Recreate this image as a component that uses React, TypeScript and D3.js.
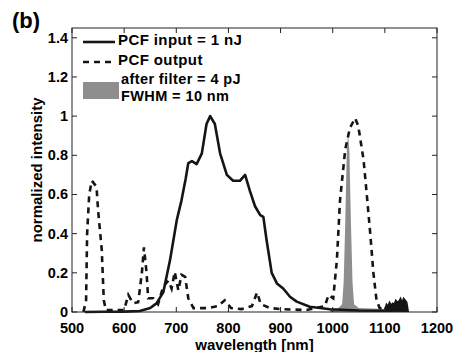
import React from 'react';
import * as d3 from 'd3';

// PCF input spectrum (solid)
const inputWl = [525, 560, 600, 630, 650, 662, 675, 688, 701, 710, 718, 723, 730, 739, 749, 758, 765, 774, 784, 797, 809, 822, 832, 841, 851, 861, 867, 873, 883, 893, 905, 918, 931, 956, 995, 1050, 1100];
const inputVal = [0, 0.001, 0.002, 0.005, 0.02, 0.044, 0.1, 0.265, 0.47, 0.57, 0.68, 0.76, 0.77, 0.755, 0.81, 0.96, 1.0, 0.96, 0.81, 0.7, 0.67, 0.67, 0.7, 0.62, 0.54, 0.495, 0.486, 0.37, 0.2, 0.146, 0.12, 0.078, 0.053, 0.027, 0.014, 0.008, 0.006];

// PCF output spectrum (dashed)
const outputWl = [522, 527, 529, 533, 538, 547, 550, 557, 561, 565, 600, 608, 617, 627, 634, 638, 643, 646, 656, 665, 675, 685, 691, 697, 704, 710, 717, 723, 733, 760, 780, 793, 805, 825, 845, 855, 862, 880, 900, 950, 985, 992, 1001, 1008, 1014, 1024, 1033, 1043, 1049, 1059, 1065, 1072, 1078, 1084, 1090, 1100];
const outputVal = [0, 0.06, 0.4, 0.6, 0.67, 0.64, 0.52, 0.32, 0.06, 0.01, 0.01, 0.087, 0.045, 0.05, 0.2, 0.33, 0.2, 0.07, 0.07, 0.04, 0.13, 0.16, 0.12, 0.205, 0.11, 0.19, 0.18, 0.07, 0.02, 0.02, 0.03, 0.06, 0.02, 0.015, 0.03, 0.1, 0.04, 0.02, 0.015, 0.01, 0.03, 0.087, 0.07, 0.265, 0.57, 0.83, 0.94, 0.99, 0.95, 0.78, 0.61, 0.4, 0.2, 0.06, 0.02, 0.01];

// after filter (gray area)
const filterWl = [995, 1010, 1018, 1021, 1024, 1027, 1029.5, 1032, 1035, 1038, 1041, 1050, 1100];
const filterVal = [0.012, 0.018, 0.04, 0.15, 0.45, 0.82, 0.91, 0.82, 0.45, 0.15, 0.04, 0.02, 0.015];

// noisy tail beyond 1100 nm
const noiseWl = [1100, 1103, 1106, 1109, 1112, 1115, 1118, 1121, 1124, 1127, 1130, 1133, 1136, 1139, 1142, 1145];
const noiseVal = [0.01, 0.04, 0.03, 0.05, 0.035, 0.045, 0.04, 0.06, 0.05, 0.055, 0.07, 0.05, 0.07, 0.06, 0.05, 0.0];

const xTicks = [500, 600, 700, 800, 900, 1000, 1100, 1200];
const yTicks = [0, 0.2, 0.4, 0.6, 0.8, 1, 1.2, 1.4];

const W = 454, H = 352;
const m = { left: 72, right: 437, top: 28, bottom: 312 };
const font = '"Liberation Sans", Arial, sans-serif';

export default function App() {
  const x = d3.scaleLinear().domain([500, 1200]).range([m.left, m.right]);
  const y = d3.scaleLinear().domain([0, 1.45]).range([m.bottom, m.top]);

  const line = d3.line<[number, number]>().x(d => x(d[0])).y(d => y(d[1]));
  const area = d3.area<[number, number]>().x(d => x(d[0])).y0(y(0)).y1(d => y(d[1]));

  const zip = (a: number[], b: number[]) => a.map((v, i) => [v, b[i]] as [number, number]);
  const input = zip(inputWl, inputVal);
  const output = zip(outputWl, outputVal);
  const filt = zip(filterWl, filterVal);
  const noise = zip(noiseWl, noiseVal);

  const tk = 5;
  return (
    <div style={{ position: 'absolute', left: 0, top: 0, width: W, height: H, background: '#fff' }}>
      <svg width={W} height={H} style={{ display: 'block', fontFamily: font, fontWeight: 'bold' }}>
        <text x={12} y={28} fontSize={22}>(b)</text>
        <path d={area(filt) || ''} fill="#8e8e8e" />
        <path d={area(noise) || ''} fill="#151515" />
        <path d={line(noise) || ''} fill="none" stroke="#151515" strokeWidth={1.5} />
        <path d={line(output) || ''} fill="none" stroke="#151515" strokeWidth={2.6} strokeDasharray="6,5" />
        <path d={line(input) || ''} fill="none" stroke="#151515" strokeWidth={2.6} strokeLinejoin="round" />
        <rect x={m.left} y={m.top} width={m.right - m.left} height={m.bottom - m.top} fill="none" stroke="#222" strokeWidth={1} />
        {xTicks.map(t => (
          <g key={'x' + t}>
            <line x1={x(t)} x2={x(t)} y1={m.bottom} y2={m.bottom - tk} stroke="#222" />
            <line x1={x(t)} x2={x(t)} y1={m.top} y2={m.top + tk} stroke="#222" />
            <text x={x(t)} y={333} fontSize={14.5} textAnchor="middle">{t}</text>
          </g>
        ))}
        {yTicks.map(t => (
          <g key={'y' + t}>
            <line x1={m.left} x2={m.left + tk} y1={y(t)} y2={y(t)} stroke="#222" />
            <line x1={m.right} x2={m.right - tk} y1={y(t)} y2={y(t)} stroke="#222" />
            <text x={68} y={y(t) + 5} fontSize={14.5} textAnchor="end">{t}</text>
          </g>
        ))}
        <text x={(m.left + m.right) / 2} y={349.5} fontSize={15} textAnchor="middle">wavelength [nm]</text>
        <text transform={`translate(42,${(m.top + m.bottom) / 2}) rotate(-90)`} fontSize={15} textAnchor="middle">normalized intensity</text>
        {/* legend */}
        <line x1={83} x2={115} y1={42} y2={42} stroke="#151515" strokeWidth={2.6} />
        <text x={118} y={44.5} fontSize={15} letterSpacing={0.4}>PCF input = 1 nJ</text>
        <line x1={83} x2={115} y1={62} y2={62} stroke="#151515" strokeWidth={2.6} strokeDasharray="6,5" />
        <text x={118} y={64.5} fontSize={15} letterSpacing={0.4}>PCF output</text>
        <rect x={83} y={82} width={36} height={17} fill="#8e8e8e" />
        <text x={121} y={83.5} fontSize={14.5} letterSpacing={0.4}>after filter = 4 pJ</text>
        <text x={121} y={100.5} fontSize={14.5} letterSpacing={0.4}>FWHM = 10 nm</text>
      </svg>
    </div>
  );
}
